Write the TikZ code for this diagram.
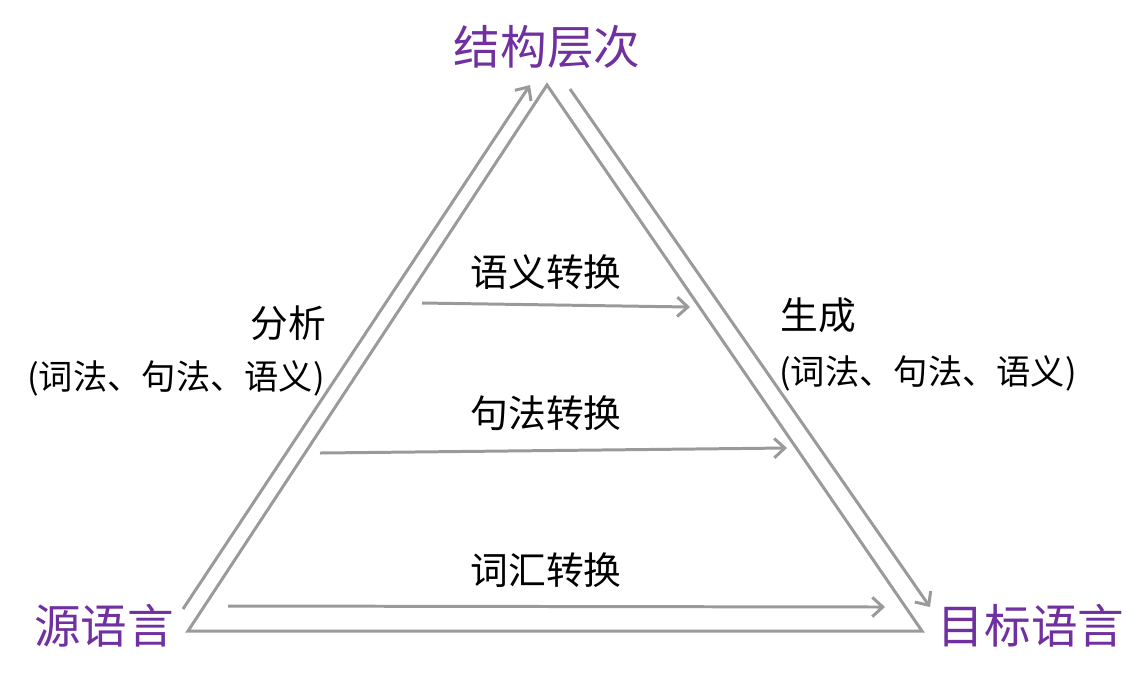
\documentclass[tikz,border=0pt]{standalone}
\usepackage{fontspec}
\setmainfont{Noto Sans CJK SC}
\usetikzlibrary{arrows.meta}
\definecolor{lineGray}{HTML}{9A9A9A}
\definecolor{labelPurple}{HTML}{7030A0}
\begin{document}
\begin{tikzpicture}[
  x=0.02cm, y=-0.02cm,
  edge/.style={draw=lineGray, line width=1.7pt},
  flow/.style={draw=lineGray, line width=1.7pt, -{Straight Barb[length=6pt, width=11pt, line width=1.7pt]}},
  corner/.style={font=\fontsize{26.5}{30}\selectfont, text=labelPurple, inner sep=0pt},
  note/.style={font=\fontsize{21.5}{25}\selectfont, inner sep=0pt, align=center},
  subnote/.style={font=\fontsize{19.5}{23}\selectfont, inner sep=0pt, align=center}
]
\useasboundingbox (0,0) rectangle (1145,681);
% triangle corners
\coordinate (apex) at (547,85);
\coordinate (left) at (188,631);
\coordinate (right) at (922,631);
\draw[edge, line join=miter] (left) -- (apex) -- (right) -- cycle;
% corner labels
\node[corner] (top) at (547,47) {结构层次};
\node[corner] (src) at (104,626) {源语言};
\node[corner] (tgt) at (1031,626) {目标语言};
% analysis and generation
\coordinate (anaA) at (183,609);
\coordinate (anaB) at (530,85);
\coordinate (genA) at (570,89);
\coordinate (genB) at (930,607);
\draw[flow] (anaA) -- (anaB);
\draw[flow] (genA) -- (genB);
\node[note] (ana) at (288,323) {分析};
\node[subnote] (anaSub) at (176,378) {(词法、句法、语义)};
\node[note] (gen) at (818,315) {生成};
\node[subnote] (genSub) at (928,373) {(词法、句法、语义)};
% transfer levels
\foreach \name/\txt/\ty/\xa/\ya/\xb/\yb in {sem/语义转换/272/422/303/690/307,
    syn/句法转换/413/320/453/787/448,
    lex/词汇转换/570/228/606/885/607} {
  \node[note] (\name) at (546,\ty) {\txt};
  \coordinate (\name A) at (\xa,\ya);
  \coordinate (\name B) at (\xb,\yb);
  \draw[flow] (\name A) -- (\name B);
}
\end{tikzpicture}
\end{document}
